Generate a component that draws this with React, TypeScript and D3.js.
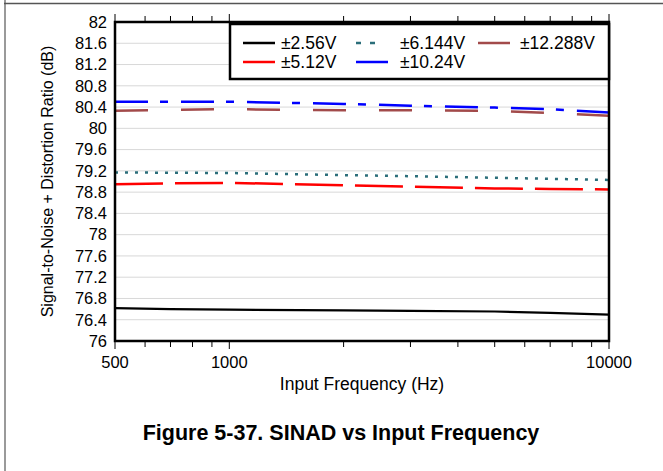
import React from "react";
import * as d3 from "d3";

// input frequency (Hz) sample points
const freqs = [500, 700, 1000, 2000, 3000, 5000, 7000, 10000];

// SINAD (dB) per input range
const sinad256 = [76.62, 76.6, 76.59, 76.575, 76.565, 76.555, 76.53, 76.495];
const sinad512 = [78.95, 78.965, 78.975, 78.93, 78.905, 78.87, 78.86, 78.85];
const sinad6144 = [79.17, 79.165, 79.16, 79.12, 79.1, 79.07, 79.05, 79.03];
const sinad1024 = [80.5, 80.5, 80.5, 80.46, 80.425, 80.39, 80.36, 80.3];
const sinad12288 = [80.33, 80.35, 80.36, 80.34, 80.34, 80.33, 80.29, 80.235];

const yTicks = [76, 76.4, 76.8, 77.2, 77.6, 78, 78.4, 78.8, 79.2, 79.6, 80, 80.4, 80.8, 81.2, 81.6, 82];
const xMinor = [600, 700, 800, 900, 2000, 3000, 4000, 5000, 6000, 7000, 8000, 9000];
const xMajor = [500, 1000, 10000];

const series = [
  { name: "±2.56V", values: sinad256, color: "#000000", dash: "none", width: 2.2 },
  { name: "±5.12V", values: sinad512, color: "#ff0000", dash: "48,12", width: 2.5 },
  { name: "±6.144V", values: sinad6144, color: "#2b6e7a", dash: "3,7", width: 2.5 },
  { name: "±10.24V", values: sinad1024, color: "#0000ff", dash: "33,12,8,13", width: 2.5 },
  { name: "±12.288V", values: sinad12288, color: "#a24a4a", dash: "33,33", width: 2.5 },
];

const W = 663;
const H = 471;
const left = 115, right = 609, top = 22, bottom = 341;
const font = "Arial, 'Liberation Sans', sans-serif";

export default function App() {
  const x = d3.scaleLog().domain([500, 10000]).range([left, right]);
  const y = d3.scaleLinear().domain([76, 82]).range([bottom, top]);

  const line = d3
    .line<[number, number]>()
    .x((d) => x(d[0]))
    .y((d) => y(d[1]));

  // legend layout
  const legItems = [
    { s: series[0], lx: 243, tx: 281, ly: 43 },
    { s: series[2], lx: 356, tx: 400, ly: 43 },
    { s: series[4], lx: 478, tx: 520, ly: 43 },
    { s: series[1], lx: 243, tx: 281, ly: 62 },
    { s: series[3], lx: 356, tx: 400, ly: 62 },
  ];

  return (
    <svg
      width={W}
      height={H}
      style={{ position: "absolute", left: 0, top: 0, background: "#fff" }}
      fontFamily={font}
    >
      {/* page frame */}
      <line x1={5} y1={0} x2={5} y2={H} stroke="#9a9a9a" strokeWidth={2} />
      <line x1={4} y1={3.5} x2={W} y2={3.5} stroke="#555" strokeWidth={1.5} />

      {/* grid */}
      {yTicks.slice(1, -1).map((t) => (
        <line key={t} x1={left} x2={right} y1={y(t)} y2={y(t)} stroke="#d8d8d8" strokeWidth={1} />
      ))}

      {/* x ticks, top and bottom */}
      {xMinor.map((t) => (
        <g key={t} stroke="#000" strokeWidth={1}>
          <line x1={x(t)} x2={x(t)} y1={top} y2={top - 6} />
          <line x1={x(t)} x2={x(t)} y1={bottom} y2={bottom + 6} />
        </g>
      ))}
      {xMajor.map((t) => (
        <g key={t} stroke="#000" strokeWidth={1}>
          <line x1={x(t)} x2={x(t)} y1={top} y2={top - 8} />
          <line x1={x(t)} x2={x(t)} y1={bottom} y2={bottom + 8} />
        </g>
      ))}

      {/* series */}
      {series.map((s) => (
        <path
          key={s.name}
          d={line(freqs.map((f, i) => [f, s.values[i]] as [number, number])) || ""}
          fill="none"
          stroke={s.color}
          strokeWidth={s.width}
          strokeDasharray={s.dash}
        />
      ))}

      {/* plot frame */}
      <rect x={left} y={top} width={right - left} height={bottom - top} fill="none" stroke="#000" strokeWidth={2.5} />

      {/* y labels */}
      {yTicks.map((t) => (
        <text key={t} x={107} y={y(t)} dy="0.35em" textAnchor="end" fontSize={16.5} fill="#000">
          {d3.format("~f")(+t.toFixed(1))}
        </text>
      ))}
      {/* x labels */}
      {xMajor.map((t) => (
        <text key={t} x={x(t)} y={362} dy="0.35em" textAnchor="middle" fontSize={16.5} fill="#000">
          {t}
        </text>
      ))}

      <text x={362} y={384} dy="0.35em" textAnchor="middle" fontSize={17.5} fill="#000">
        Input Frequency (Hz)
      </text>
      <text
        transform={`translate(47,${(top + bottom) / 2}) rotate(-90)`}
        dy="0.35em"
        textAnchor="middle"
        fontSize={16}
        fill="#000"
      >
        Signal-to-Noise + Distortion Ratio (dB)
      </text>

      {/* legend */}
      <rect x={230} y={24} width={right - 230} height={55} fill="#fff" stroke="#000" strokeWidth={2.5} />
      {legItems.map(({ s, lx, tx, ly }) => (
        <g key={s.name}>
          <line
            x1={lx}
            x2={lx + (s.name === "±6.144V" ? 24 : 32)}
            y1={ly}
            y2={ly}
            stroke={s.color}
            strokeWidth={2.5}
            strokeDasharray={s.name === "±6.144V" ? "5,9" : "none"}
          />
          <text x={tx} y={ly} dy="0.35em" fontSize={17.5} fill="#000">
            {s.name}
          </text>
        </g>
      ))}

      {/* caption */}
      <text x={341} y={432} dy="0.35em" textAnchor="middle" fontSize={21.5} fontWeight="bold" fill="#000">
        Figure 5-37. SINAD vs Input Frequency
      </text>
    </svg>
  );
}
